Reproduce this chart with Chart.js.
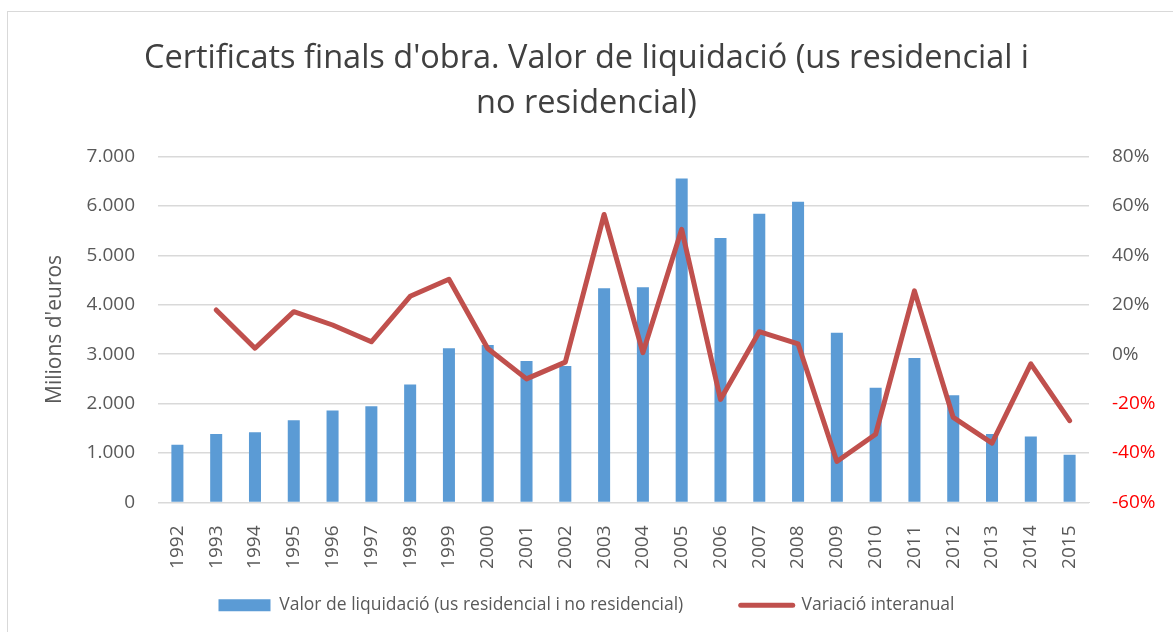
<!DOCTYPE html>
<html>
<head>
<meta charset="utf-8">
<script src="https://cdn.jsdelivr.net/npm/chart.js@4/dist/chart.umd.min.js"></script>
<style>
    html, body { margin: 0; padding: 0; background: #fff; overflow: hidden; }
    #frame { position: absolute; left: 7px; top: 11px; width: 1300px; height: 800px; border: 1px solid #d9d9d9; }
    #chart { position: absolute; left: 0; top: 0; }
</style>
</head>
<body>
<div id="frame"></div>
<canvas id="chart" width="1173" height="632"></canvas>
<script>
    // Data
    const years = ['1992', '1993', '1994', '1995', '1996', '1997', '1998', '1999', '2000', '2001', '2002', '2003',
        '2004', '2005', '2006', '2007', '2008', '2009', '2010', '2011', '2012', '2013', '2014', '2015'];
    const valorLiquidacio = [1170, 1385, 1420, 1663, 1860, 1947, 2387, 3118, 3185, 2860, 2759, 4335,
        4355, 6552, 5349, 5842, 6085, 3434, 2319, 2921, 2170, 1385, 1333, 968];
    const variacioInteranual = [null, 17.9, 2.4, 17.2, 11.8, 5.0, 23.4, 30.3, 2.3, -10.0, -3.2, 56.5,
        0.6, 50.5, -18.3, 9.1, 4.2, -43.4, -32.4, 25.6, -25.6, -36.0, -3.9, -26.9];
    const leftTicks = [0, 1000, 2000, 3000, 4000, 5000, 6000, 7000];
    const rightTicks = [-60, -40, -20, 0, 20, 40, 60, 80];

    const grey = '#595959';
    const font = 'Open Sans';

    const ctx = document.getElementById('chart').getContext('2d');

    new Chart(ctx, {
        type: 'bar',
        data: {
            labels: years,
            datasets: [{
                label: 'Valor de liquidació (us residencial i no residencial)',
                data: valorLiquidacio,
                backgroundColor: '#5b9bd5',
                yAxisID: 'y',
                order: 1,
                barPercentage: 0.31,
                categoryPercentage: 1
            }, {
                type: 'line',
                label: 'Variació interanual',
                data: variacioInteranual,
                borderColor: '#c0504d',
                backgroundColor: '#c0504d',
                borderWidth: 5,
                borderJoinStyle: 'round',
                borderCapStyle: 'round',
                pointRadius: 0,
                tension: 0,
                yAxisID: 'y1',
                order: 0
            }]
        },
        options: {
            responsive: false,
            animation: false,
            layout: {
                padding: { left: 0, right: 0, top: 0, bottom: 8 }
            },
            scales: {
                x: {
                    grid: { display: false },
                    border: { color: '#d9d9d9' },
                    ticks: {
                        minRotation: 90,
                        maxRotation: 90,
                        padding: 15,
                        color: grey,
                        font: { family: font, size: 19 }
                    },
                    afterFit: scale => { scale.height = 82; }
                },
                y: {
                    position: 'left',
                    min: 0,
                    max: 7000,
                    afterBuildTicks: scale => { scale.ticks = leftTicks.map(v => ({ value: v })); },
                    grid: { color: '#d9d9d9', lineWidth: 1.5, drawTicks: false },
                    border: { display: false },
                    ticks: {
                        padding: 23,
                        color: grey,
                        font: { family: font, size: 19 },
                        callback: v => v.toLocaleString('de-DE')
                    },
                    title: {
                        display: true,
                        text: "Milions d'euros",
                        color: grey,
                        font: { family: font, size: 21 },
                        padding: { top: 42, bottom: 0 }
                    },
                    afterFit: scale => { scale.width = 158; }
                },
                y1: {
                    position: 'right',
                    min: -60,
                    max: 80,
                    afterBuildTicks: scale => { scale.ticks = rightTicks.map(v => ({ value: v })); },
                    grid: { display: false, drawTicks: false },
                    border: { display: false },
                    ticks: {
                        padding: 23,
                        color: c => (c.tick && c.tick.value < 0 ? '#ff0000' : grey),
                        font: { family: font, size: 19 },
                        callback: v => v + '%'
                    },
                    afterFit: scale => { scale.width = 84; }
                }
            },
            plugins: {
                title: {
                    display: true,
                    text: ["Certificats finals d'obra. Valor de liquidació (us residencial i", 'no residencial)'],
                    color: '#404040',
                    font: { family: font, size: 32.5, weight: 'normal', lineHeight: 1.36 },
                    padding: { top: 37, bottom: 31 }
                },
                legend: {
                    position: 'bottom',
                    labels: {
                        color: grey,
                        font: { family: font, size: 17.5 },
                        boxWidth: 52,
                        boxHeight: 12,
                        padding: 12,
                        usePointStyle: true,
                        pointStyleWidth: 52,
                        sort: (a, b) => a.datasetIndex - b.datasetIndex,
                        generateLabels: chart => {
                            const items = Chart.defaults.plugins.legend.labels.generateLabels(chart);
                            items.forEach(item => {
                                if (item.datasetIndex === 1) {
                                    item.pointStyle = 'line';
                                    item.lineWidth = 5;
                                    item.strokeStyle = '#c0504d';
                                    item.lineCap = 'round';
                                } else {
                                    // trailing spaces widen the gap to the second item
                                    item.text = item.text + '          ';
                                    item.pointStyle = 'rect';
                                    item.lineWidth = 0;
                                }
                            });
                            return items;
                        }
                    }
                },
                tooltip: { enabled: false }
            }
        }
    });
</script>
</body>
</html>
